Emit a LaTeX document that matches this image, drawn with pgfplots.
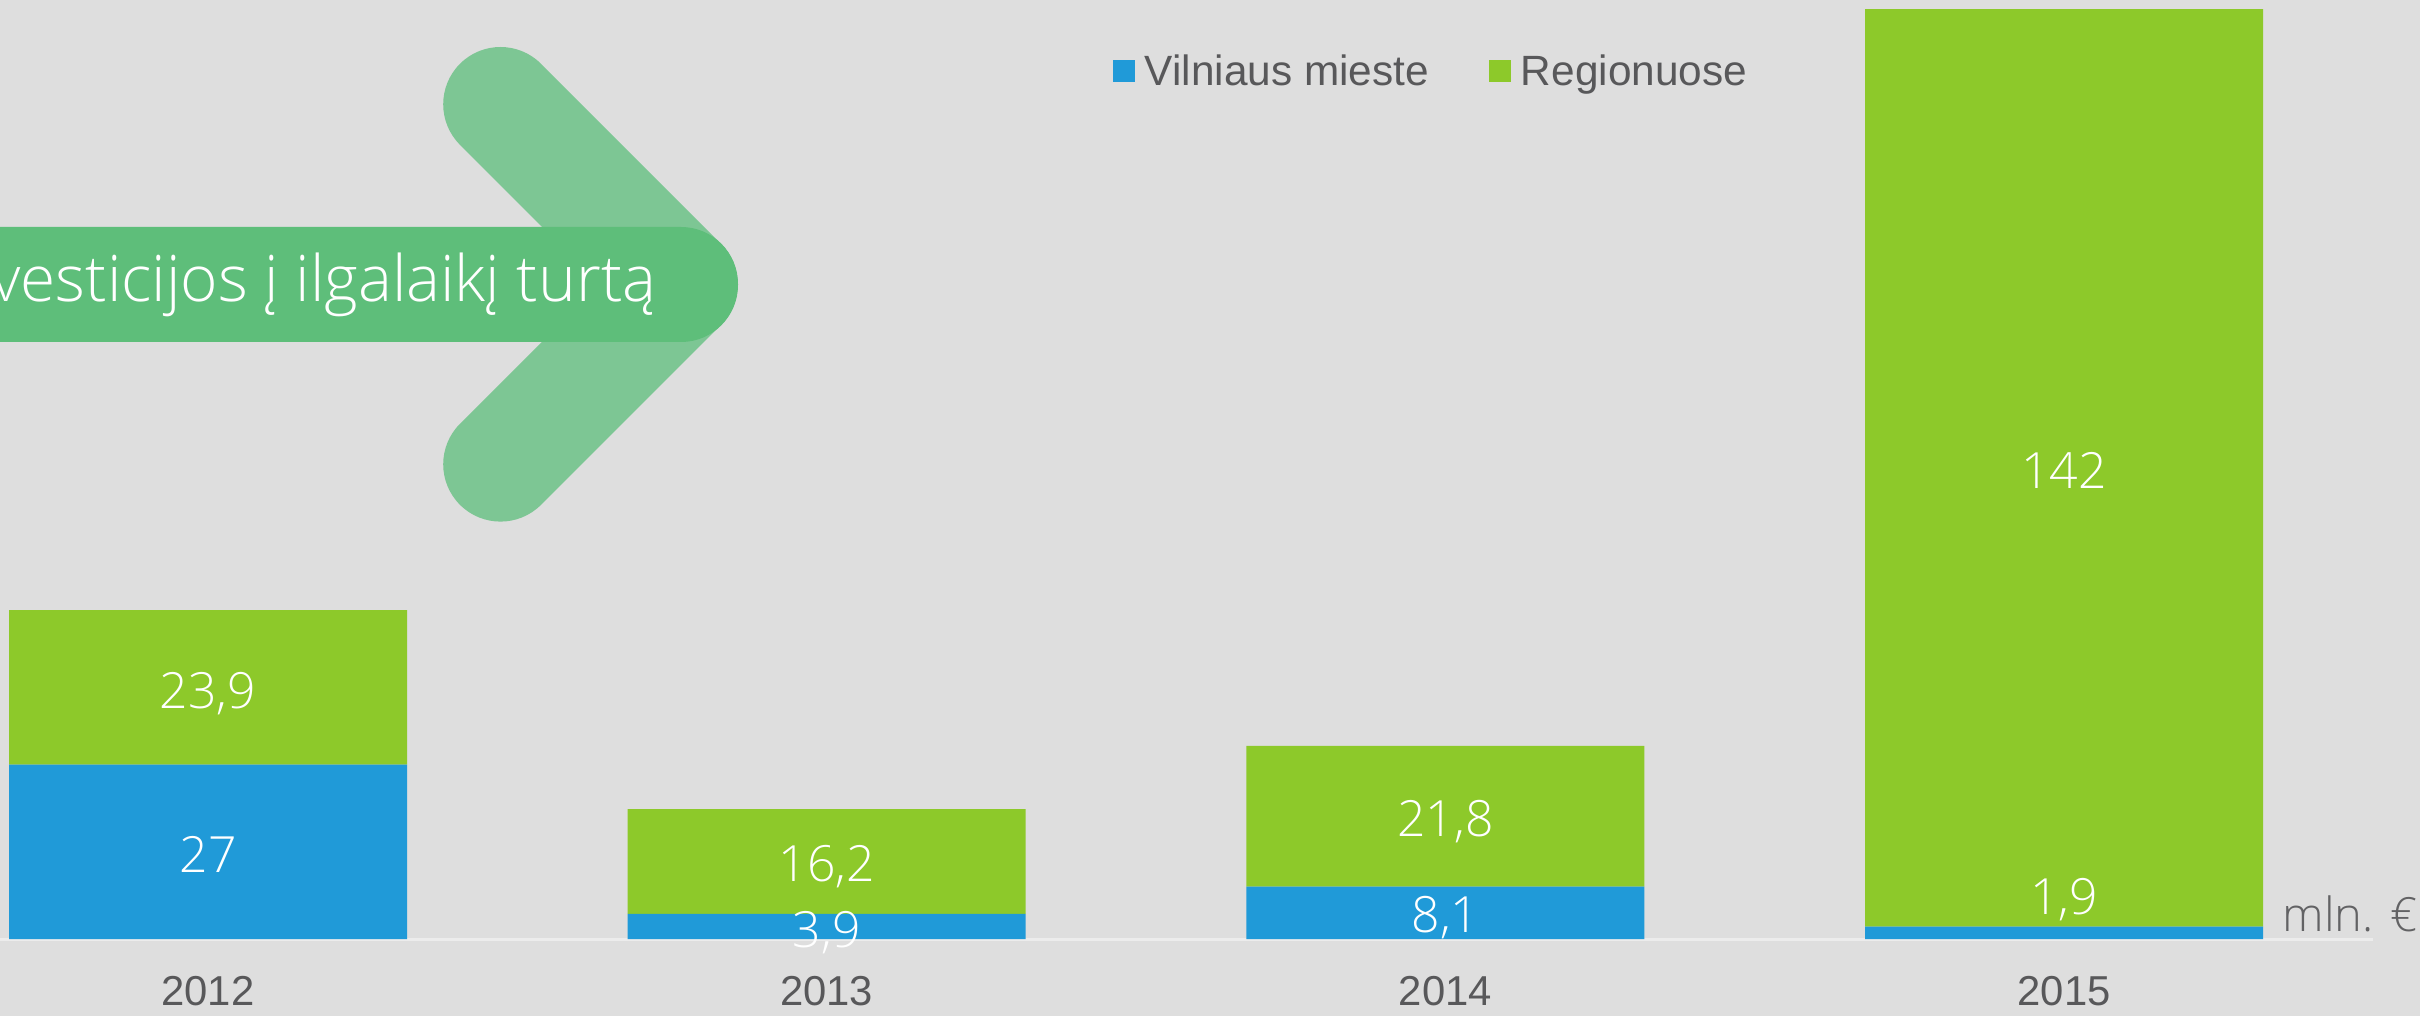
\documentclass[border=0pt]{standalone}
\usepackage{pgfplots}
\pgfplotsset{compat=1.18}
\usepackage{fontspec}
\setmainfont{Liberation Sans}
\newfontfamily\osl{Open Sans Light}
\definecolor{bg}{RGB}{222,222,222}
\definecolor{cblue}{RGB}{32,154,216}
\definecolor{cgreen}{RGB}{141,201,42}
\definecolor{chev}{RGB}{125,198,148}
\definecolor{banner}{RGB}{94,190,122}
\definecolor{txt}{RGB}{88,88,90}
\definecolor{unit}{RGB}{98,98,100}
\definecolor{base}{RGB}{236,236,236}
\tikzset{lbl/.style={text=white, font=\osl\fontsize{14.2}{14}\selectfont, inner sep=0pt, text height=10.1pt, text depth=0pt, anchor=center}}
\begin{document}
\begin{tikzpicture}[x=1mm,y=1mm]
\fill[bg] (0,0) rectangle (242,101.6);
\draw[chev, line width=11.46mm, line cap=round, line join=round] (50.05,91.17) -- (68.05,73.17) -- (50.05,55.17);
\fill[banner, rounded corners=5.7mm] (-30,67.4) rectangle (73.8,78.9);
\node[anchor=base east, inner sep=0pt, text=white, font=\osl\fontsize{18.2}{18}\selectfont] at (65.7,71.4) {Investicijos į ilgalaikį turtą};
\begin{axis}[
  at={(0mm,7.7mm)}, anchor=south west,
  scale only axis, width=237.3mm, height=93.9mm,
  xmin=-0.3362, xmax=3.4994, ymin=0, ymax=145.3,
  ybar stacked, bar width=39.8mm,
  axis y line=none, axis x line*=bottom,
  x axis line style={draw=base, line width=0.3mm, -},
  xtick={0,1,2,3}, xticklabels={2012,2013,2014,2015},
  major tick length=0pt,
  xticklabel style={anchor=base, yshift=-6.6mm, font=\fontsize{11.9}{12}\selectfont, text=txt, inner sep=0pt},
  clip=false,
  legend columns=2,
  legend image code/.code={\fill[#1] (0mm,0.3mm) rectangle (2.2mm,2.5mm);},
  legend style={at={(axis description cs:0.469,0.9419)}, anchor=north west,
    draw=none, fill=none, inner sep=0pt, outer sep=0pt,
    font=\fontsize{12.05}{12}\selectfont, text=txt,
    cells={anchor=base west},
    nodes={inner sep=0pt},
    /tikz/every odd column/.style={column sep=1.0mm},
    /tikz/every even column/.style={column sep=6.0mm}},
  after end axis/.code={
    \node[lbl] at (axis cs:0,13.0) {27};
    \node[lbl] at (axis cs:0,38.4) {23,9};
    \node[lbl] at (axis cs:1,1.4) {3,9};
    \node[lbl] at (axis cs:1,11.6) {16,2};
    \node[lbl] at (axis cs:2,3.7) {8,1};
    \node[lbl] at (axis cs:2,18.6) {21,8};
    \node[lbl] at (axis cs:3,6.5) {1,9};
    \node[lbl] at (axis cs:3,72.5) {142};
  },
]
\addplot[fill=cblue, draw=none] coordinates {(0,27) (1,3.9) (2,8.1) (3,1.9)};
\addplot[fill=cgreen, draw=none] coordinates {(0,23.9) (1,16.2) (2,21.8) (3,142)};
\legend{Vilniaus mieste, Regionuose}
\end{axis}
\node[anchor=base west, inner sep=0pt, text=unit, font=\osl\fontsize{13.4}{14}\selectfont] at (228.2,8.5) {mln. €};
\pgfresetboundingbox
\useasboundingbox (0,0) rectangle (242,101.6);
\end{tikzpicture}
\end{document}
